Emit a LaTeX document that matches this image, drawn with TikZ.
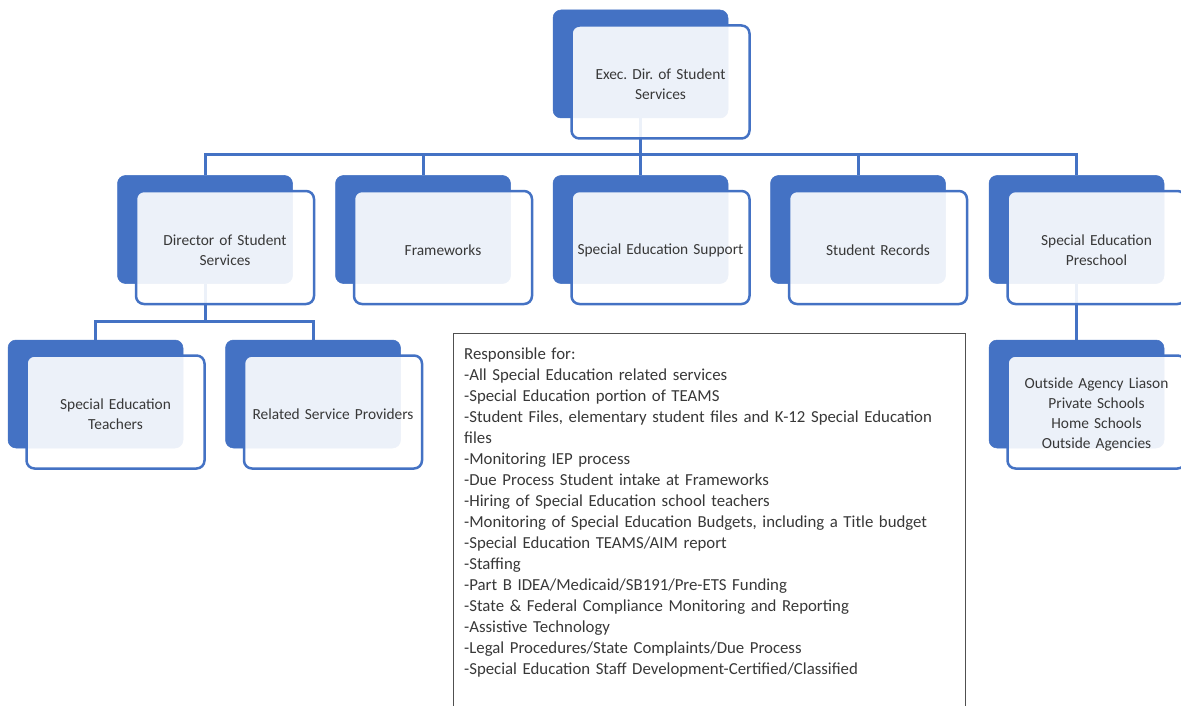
\documentclass[tikz,border=0pt]{standalone}
\usepackage{fontspec}
\setmainfont{Carlito}
\frenchspacing
\definecolor{accent}{HTML}{4472C4}
\definecolor{txt}{HTML}{383838}
\definecolor{frame}{HTML}{505050}
\tikzset{
  backbox/.style={rectangle, rounded corners=8pt, fill=accent, draw=accent, line width=0.5pt,
    minimum width=175pt, minimum height=108pt, inner sep=0pt},
  frontbox/.style={rectangle, rounded corners=8pt, fill=white, fill opacity=0.9, text opacity=1,
    draw=accent, line width=2.5pt, minimum width=178pt, minimum height=113pt,
    text width=174pt, align=center, inner sep=0pt, text=txt,
    font=\fontsize{15.4}{20}\selectfont, execute at begin node={\rule{0pt}{15.5pt}}},
  link/.style={draw=accent, line width=3pt},
}
\begin{document}
\begin{tikzpicture}[x=1pt,y=-1pt]
\clip (0,0) rectangle (1181,706);
\fill[white] (0,0) rectangle (1181,706);
% back boxes
\node[backbox] (topb) at (640.5,64) {};
\node[backbox] (dirb) at (205,229.5) {};
\node[backbox] (frab) at (423,229.5) {};
\node[backbox] (sesb) at (640.5,229.5) {};
\node[backbox] (recb) at (858,229.5) {};
\node[backbox] (preb) at (1076.5,229.5) {};
\node[backbox] (teab) at (95.5,394) {};
\node[backbox] (rspb) at (313,394) {};
\node[backbox] (outb) at (1076.5,394) {};
% junctions
\coordinate (j0) at (640.5,155);
\coordinate (j1) at (205,321);
% connectors
\draw[link] (topb.south) -- (j0);
\draw[link] (j0) -| (dirb.north);
\draw[link] (j0) -| (frab.north);
\draw[link] (j0) -- (sesb.north);
\draw[link] (j0) -| (recb.north);
\draw[link] (j0) -| (preb.north);
\draw[link] (dirb.south) -- (j1);
\draw[link] (j1) -| (teab.north);
\draw[link] (j1) -| (rspb.north);
\draw[link] (preb.south) -- (outb.north);
% front boxes
\node[frontbox] (topf) at ([shift={(20,18)}]topb.center) {Exec. Dir. of Student\\Services};
\node[frontbox] (dirf) at ([shift={(20,18)}]dirb.center) {Director of Student\\Services};
\node[frontbox] (fraf) at ([shift={(20,18)}]frab.center) {Frameworks};
\node[frontbox] (sesf) at ([shift={(20,18)}]sesb.center) {Special Education Support};
\node[frontbox] (recf) at ([shift={(20,18)}]recb.center) {Student Records};
\node[frontbox] (pref) at ([shift={(20,18)}]preb.center) {Special Education\\Preschool};
\node[frontbox] (teaf) at ([shift={(20,18)}]teab.center) {Special Education\\Teachers};
\node[frontbox] (rspf) at ([shift={(20,18)}]rspb.center) {Related Service Providers};
\node[frontbox] (outf) at ([shift={(20,18)}]outb.center) {Outside Agency Liason\\Private Schools\\Home Schools\\Outside Agencies};
% responsibilities box
\node[draw=frame, line width=1.3pt, minimum width=512pt, minimum height=400pt, anchor=north west, inner sep=0pt] (resp) at (453,333) {};
\node[anchor=north west, inner sep=0pt, text width=495pt, align=left, text=txt,
  font=\fontsize{16.8}{21}\selectfont] (resptext) at ([shift={(11,14.5)}]resp.north west) {%
Responsible for:\\
-All Special Education related services\\
-Special Education portion of TEAMS\\
-Student Files, elementary student files and K-12 Special Education\\
files\\
-Monitoring IEP process\\
-Due Process Student intake at Frameworks\\
-Hiring of Special Education school teachers\\
-Monitoring of Special Education Budgets, including a Title budget\\
-Special Education TEAMS/AIM report\\
-Staffing\\
-Part B IDEA/Medicaid/SB191/Pre-ETS Funding\\
-State \& Federal Compliance Monitoring and Reporting\\
-Assistive Technology\\
-Legal Procedures/State Complaints/Due Process\\
-Special Education Staff Development-Certified/Classified};
\end{tikzpicture}
\end{document}
